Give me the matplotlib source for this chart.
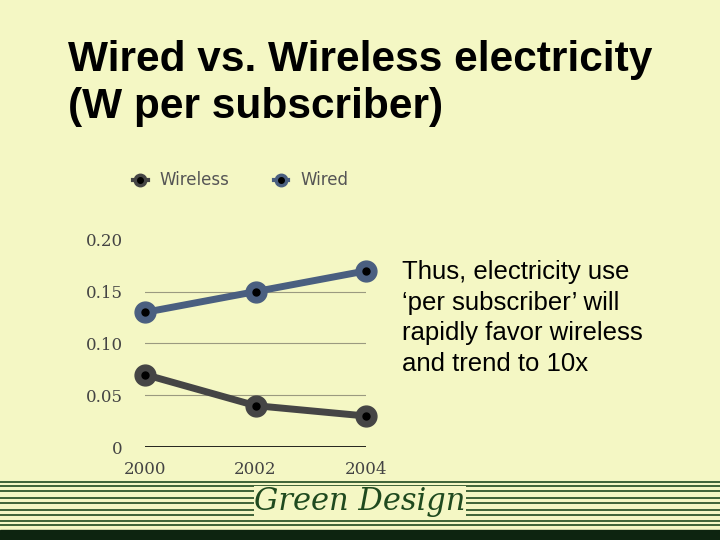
import matplotlib.pyplot as plt

years = [2000, 2002, 2004]
wireless = [0.07, 0.04, 0.03]
wired = [0.13, 0.15, 0.17]
yticks = [0, 0.05, 0.10, 0.15, 0.20]
ylabels = ['0', '0.05', '0.10', '0.15', '0.20']

bg = '#f4f7c4'
fig = plt.figure(figsize=(7.2, 5.4), dpi=100, facecolor=bg)

# title
fig.text(0.094, 0.888, 'Wired vs. Wireless electricity', fontsize=30.5, weight='bold',
         family='Liberation Sans', va='center')
fig.text(0.094, 0.801, '(W per subscriber)', fontsize=30.5, weight='bold',
         family='Liberation Sans', va='center')

ax = fig.add_axes([0.2014, 0.172, 0.307, 0.384], facecolor=bg)
for y in yticks[1:-1]:
    ax.axhline(y, color='#9a9a80', lw=0.8)
ax.axhline(0, color='black', lw=1.2)

for vals, col in [(wireless, '#454545'), (wired, '#4a5f80')]:
    ax.plot(years, vals, color=col, lw=5, marker='o', ms=15, clip_on=False, zorder=3)
    ax.plot(years, vals, 'o', color='black', ms=5, clip_on=False, zorder=4)

ax.set_xlim(2000, 2004)
ax.set_ylim(0, 0.2)
ax.set_xticks(years)
ax.set_xticklabels([str(y) for y in years], family='DejaVu Serif', fontsize=12, color='#444444')
ax.set_yticks(yticks)
ax.set_yticklabels(ylabels, family='DejaVu Serif', fontsize=12, color='#444444')
ax.tick_params(length=0, pad=10)
ax.tick_params(axis='y', pad=16)
for s in ax.spines.values():
    s.set_visible(False)

# legend
for x, col, lab in [(0.195, '#454545', 'Wireless'), (0.39, '#4a5f80', 'Wired')]:
    fig.lines.append(plt.Line2D([x - 0.01, x + 0.01], [0.666, 0.666], color=col, lw=3,
                                transform=fig.transFigure))
    fig.lines.append(plt.Line2D([x], [0.666], marker='o', ms=9, color=col, transform=fig.transFigure))
    fig.lines.append(plt.Line2D([x], [0.666], marker='o', ms=4, color='black', transform=fig.transFigure))
    fig.text(x + 0.027, 0.666, lab, fontsize=12, color='#555555', family='DejaVu Sans', va='center')

fig.text(0.558, 0.411, 'Thus, electricity use\n\u2018per subscriber\u2019 will\nrapidly favor wireless\nand trend to 10x',
         fontsize=18.5, family='Liberation Sans', va='center', linespacing=1.35)

# bottom stripes
for ypx in [482, 486, 491, 498, 503, 510, 515, 521, 525]:
    fig.lines.append(plt.Line2D([0, 1], [1 - ypx / 540] * 2, color='#1f4a1f', lw=1.2,
                                transform=fig.transFigure))
fig.patches.append(plt.Rectangle((0, 0), 1, 10 / 540, color='#0d2410', transform=fig.transFigure))
fig.text(0.5, 0.072, 'Green Design', fontsize=22, style='italic', family='DejaVu Serif',
         color='#1f4a1f', ha='center', va='center',
         bbox=dict(facecolor=bg, edgecolor='none', pad=0))

fig.savefig('out.png', dpi=100, facecolor=bg)
